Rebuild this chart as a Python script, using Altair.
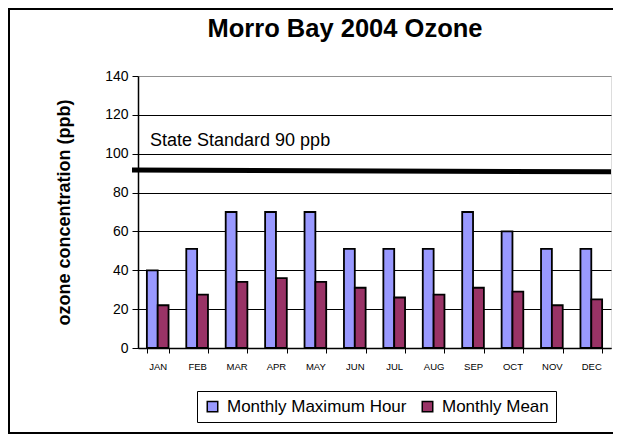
import altair as alt
import pandas as pd

months = ["JAN", "FEB", "MAR", "APR", "MAY", "JUN", "JUL", "AUG", "SEP", "OCT", "NOV", "DEC"]
max_hour = [40, 51, 70, 70, 70, 51, 51, 51, 70, 60, 51, 51]
monthly_mean = [22, 27.5, 34, 36, 34, 31, 26, 27.5, 31, 29, 22, 25]
series_names = ["Monthly Maximum Hour", "Monthly Mean"]
series_colors = ["#9999FF", "#993366"]
y_ticks = [0, 20, 40, 60, 80, 100, 120, 140]
standard_left = 91.6
standard_right = 90.7
standard_label = "State Standard 90 ppb"
chart_title = "Morro Bay 2004 Ozone"

rows = []
for m, a, b in zip(months, max_hour, monthly_mean):
    rows.append({"month": m, "series": series_names[0], "value": a})
    rows.append({"month": m, "series": series_names[1], "value": b})
df = pd.DataFrame(rows)

FONT = "Liberation Sans"
W, H = 473, 272

yscale = alt.Scale(domain=[0, 140], nice=False)
yaxis = alt.Axis(values=y_ticks, labelOverlap=False,
                 title="ozone concentration (ppb)", titleFont=FONT,
                 titleFontSize=18, titleFontWeight="bold", titleColor="black",
                 titleX=-69, titleY=136, titleAngle=-90, titleBaseline="alphabetic",
                 labelFontSize=14, labelFont=FONT, labelColor="black", labelPadding=4,
                 domainColor="black", domainWidth=1.5, tickColor="black", tickSize=6,
                 grid=True,
                 gridColor={"condition": {"test": "datum.value === 140", "value": "#909090"},
                            "value": "black"},
                 gridWidth=1)

bars = alt.Chart(df).mark_bar(stroke="black", strokeWidth=1.8).encode(
    x=alt.X("month:N", sort=months, title=None,
            scale=alt.Scale(paddingInner=0.45, paddingOuter=0.225),
            axis=alt.Axis(labelAngle=0, labelFontSize=9.5, labelFont=FONT, labelColor="black",
                          domainColor="black", domainWidth=1.5, tickColor="black", tickSize=5,
                          tickBand="extent", labelPadding=8, grid=False)),
    xOffset=alt.XOffset("series:N", sort=series_names, scale=alt.Scale(paddingInner=0, paddingOuter=0)),
    y=alt.Y("value:Q", scale=yscale, axis=yaxis),
    color=alt.Color("series:N", sort=series_names,
                    scale=alt.Scale(domain=series_names, range=series_colors),
                    legend=alt.Legend(title=None, orient="none", direction="horizontal",
                                      legendX=59, legendY=315, symbolType="square", symbolSize=110,
                                      symbolStrokeColor="black", symbolStrokeWidth=1.5,
                                      labelFontSize=17, labelFont=FONT, labelColor="black",
                                      labelLimit=0, strokeColor="black", padding=7,
                                      columnPadding=12, labelOffset=6, symbolOpacity=1)),
)

std_df = pd.DataFrame({"left": [standard_left], "right": [standard_right]})
std_line = alt.Chart(std_df).mark_rule(color="black", strokeWidth=5).encode(
    x=alt.value(-6), x2=alt.value(W),
    y=alt.Y("left:Q", scale=yscale, axis=yaxis), y2="right:Q",
)

lbl_df = pd.DataFrame({"text": [standard_label], "v": [104]})
std_text = alt.Chart(lbl_df).mark_text(align="left", baseline="alphabetic", fontSize=18,
                                       font=FONT, color="black").encode(
    x=alt.value(12), y=alt.Y("v:Q", scale=yscale, axis=yaxis), text="text:N")

title_df = pd.DataFrame({"text": [chart_title]})
title = alt.Chart(title_df).mark_text(align="center", baseline="alphabetic", fontSize=25.5,
                                      fontWeight="bold", font=FONT, color="black").encode(
    x=alt.value(207), y=alt.value(-39), text="text:N")

frame_df = pd.DataFrame({"k": [0]})
frame = alt.Chart(frame_df).mark_rect(fill=None, stroke="black", strokeWidth=2).encode(
    x=alt.value(-129), x2=alt.value(481), y=alt.value(-67), y2=alt.value(357))

chart = alt.layer(bars, std_line, std_text, title, frame).properties(
    width=W, height=H,
    autosize=alt.AutoSizeParams(type="none"),
    padding={"left": 130, "top": 68, "right": 2, "bottom": 88},
).configure_view(stroke="#808080", strokeWidth=1).configure(background="white")

chart.save("out.html", embed_options={"renderer": "svg", "actions": False})
